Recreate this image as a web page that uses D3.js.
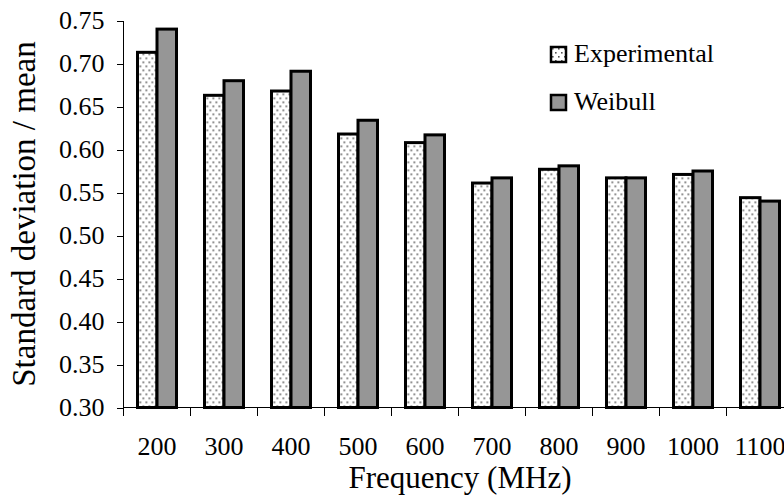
<!DOCTYPE html>
<html>
<head>
<meta charset="UTF-8">
<title>Standard deviation / mean</title>
<script src="https://d3js.org/d3.v7.min.js"></script>
<style>
body { margin: 0; background: #fff; }
svg, svg text { font-family: "Liberation Serif", "Times New Roman", serif; }
.axis path, .axis line { stroke: #000; stroke-width: 1; shape-rendering: crispEdges; }
.axis text { fill: #000; font-size: 26px; font-family: "Liberation Serif", "Times New Roman", serif; }
</style>
</head>
<body>
<svg width="784" height="502"></svg>
<script>
// data
var frequencies = ["200", "300", "400", "500", "600", "700", "800", "900", "1000", "1100"];
var experimental = [0.713, 0.663, 0.668, 0.618, 0.608, 0.561, 0.577, 0.567, 0.571, 0.544];
var weibull      = [0.740, 0.680, 0.691, 0.634, 0.617, 0.567, 0.581, 0.567, 0.575, 0.540];
var seriesNames  = ["Experimental", "Weibull"];
var yTicks = [0.30, 0.35, 0.40, 0.45, 0.50, 0.55, 0.60, 0.65, 0.70, 0.75];

var margin = {top: 20.5, left: 123.5},
    plotW = 670, plotH = 387;

var svg = d3.select("svg");

// dotted fill for the experimental bars
var defs = svg.append("defs");
var pat = defs.append("pattern")
    .attr("id", "dots")
    .attr("patternUnits", "userSpaceOnUse")
    .attr("width", 6).attr("height", 8);
pat.append("rect").attr("width", 6).attr("height", 8).attr("fill", "#fff");
pat.append("rect").attr("x", 1).attr("y", 1).attr("width", 1.6).attr("height", 1.6).attr("fill", "#555");
pat.append("rect").attr("x", 4).attr("y", 5).attr("width", 1.6).attr("height", 1.6).attr("fill", "#555");

var fills = {"Experimental": "url(#dots)", "Weibull": "#969696"};

var g = svg.append("g")
    .attr("transform", "translate(" + margin.left + "," + margin.top + ")");

var x = d3.scaleBand().domain(frequencies).range([0, plotW]).padding(0);
var x1 = d3.scaleBand().domain(seriesNames).range([14, 53]).padding(0);
var y = d3.scaleLinear().domain([0.30, 0.75]).range([plotH, 0]);

var rows = frequencies.map(function(f, i) {
  return {freq: f, values: [
    {name: "Experimental", v: experimental[i]},
    {name: "Weibull", v: weibull[i]}
  ]};
});

// bars
var groups = g.selectAll(".grp")
    .data(rows)
  .enter().append("g")
    .attr("class", "grp")
    .attr("transform", function(d) { return "translate(" + x(d.freq) + ",0)"; });

groups.selectAll("rect")
    .data(function(d) { return d.values; })
  .enter().append("rect")
    .attr("x", function(d) { return x1(d.name); })
    .attr("width", x1.bandwidth())
    .attr("y", function(d) { return y(d.v); })
    .attr("height", function(d) { return plotH - y(d.v); })
    .attr("fill", function(d) { return fills[d.name]; })
    .attr("stroke", "#000")
    .attr("stroke-width", 3);

// y axis
var yAxis = g.append("g")
    .attr("class", "axis")
    .call(d3.axisLeft(y).tickValues(yTicks).tickSize(7).tickPadding(12)
      .tickFormat(d3.format(".2f")));
yAxis.attr("font-family", null).attr("font-size", null);
yAxis.select(".domain").attr("d", "M0,0V" + plotH);

// x axis: labels centred, ticks between categories
var xAxis = g.append("g")
    .attr("class", "axis")
    .attr("transform", "translate(0," + plotH + ")")
    .call(d3.axisBottom(x).tickSize(0).tickPadding(29));
xAxis.attr("font-family", null).attr("font-size", null);
xAxis.select(".domain").attr("d", "M0,0H" + plotW);
xAxis.selectAll(".sep")
    .data(frequencies)
  .enter().append("line")
    .attr("class", "sep")
    .attr("x1", function(d) { return x(d); })
    .attr("x2", function(d) { return x(d); })
    .attr("y1", 0).attr("y2", 8);

// axis titles
svg.append("text")
    .attr("x", 460).attr("y", 488)
    .attr("text-anchor", "middle")
    .style("font-size", "31px")
    .text("Frequency (MHz)");

svg.append("text")
    .attr("transform", "translate(35,214) rotate(-90)")
    .attr("text-anchor", "middle")
    .style("font-size", "33px")
    .text("Standard deviation / mean");

// legend
var legend = svg.append("g").attr("transform", "translate(551,47)");
var items = legend.selectAll("g")
    .data(seriesNames)
  .enter().append("g")
    .attr("transform", function(d, i) { return "translate(0," + (i * 48) + ")"; });
items.append("rect")
    .attr("width", 15).attr("height", 15)
    .attr("fill", function(d) { return fills[d]; })
    .attr("stroke", "#000").attr("stroke-width", 2.5);
items.append("text")
    .attr("x", 23).attr("y", 15)
    .style("font-size", "26px")
    .text(function(d) { return d; });
</script>
</body>
</html>
